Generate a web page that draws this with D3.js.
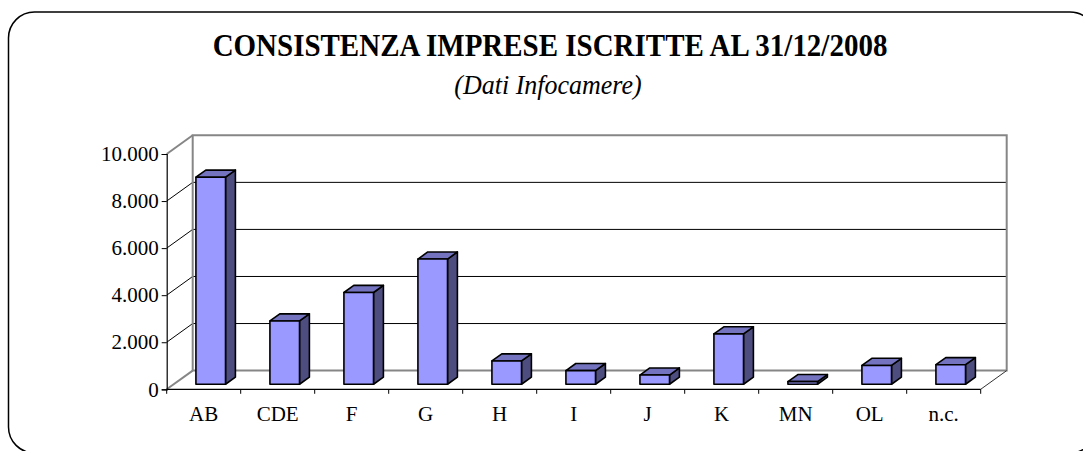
<!DOCTYPE html>
<html>
<head>
<meta charset="utf-8">
<script src="https://cdn.jsdelivr.net/npm/d3@7"></script>
<style>
  html, body { margin: 0; padding: 0; background: #fff; }
  svg { display: block; font-family: "Liberation Serif", "Times New Roman", serif; }
</style>
</head>
<body>
<div id="chart"></div>
<script>
const categories = ["AB", "CDE", "F", "G", "H", "I", "J", "K", "MN", "OL", "n.c."];
const imprese = [8800, 2690, 3900, 5320, 990, 580, 390, 2140, 110, 800, 830];
const yTicks = [0, 2000, 4000, 6000, 8000, 10000];
const titleText = "CONSISTENZA IMPRESE ISCRITTE AL 31/12/2008";
const subtitleText = "(Dati Infocamere)";

const W = 1083, H = 451;

// front plane of the 3d box, and depth offset to the back wall
const x0 = 166.7, x1 = 980.7;
const yBottom = 389.3, yTop = 154;
const DX = 26, DY = -18.7;
// bars sit between these fractions of the depth
const f1 = 0.27, f2 = 0.65;

const svg = d3.select("#chart").append("svg")
  .attr("width", W)
  .attr("height", H);

// outer frame
svg.append("rect")
  .attr("x", 8.5).attr("y", 12)
  .attr("width", 1087.5).attr("height", 441)
  .attr("rx", 26).attr("ry", 26)
  .attr("fill", "#fff")
  .attr("stroke", "#000")
  .attr("stroke-width", 1.5);

// titles (the source picture is a bit taller than wide)
svg.append("text")
  .attr("transform", "translate(550,56) scale(1,1.12)")
  .attr("text-anchor", "middle")
  .attr("font-size", 29)
  .attr("font-weight", "bold")
  .text(titleText);

svg.append("text")
  .attr("transform", "translate(548,94) scale(1,1.05)")
  .attr("text-anchor", "middle")
  .attr("font-size", 26)
  .attr("font-style", "italic")
  .text(subtitleText);

const x = d3.scaleBand()
  .domain(categories)
  .range([x0, x1])
  .paddingInner(0.6)
  .paddingOuter(0.3);

const y = d3.scaleLinear()
  .domain([0, 10000])
  .range([yBottom, yTop]);

const step = x.step();

// ---------- walls ----------
const wallGray = "#868686";

// back wall grid lines
yTicks.slice(1, -1).forEach(t => {
  svg.append("line")
    .attr("x1", x0 + DX).attr("x2", x1 + DX)
    .attr("y1", y(t) + DY).attr("y2", y(t) + DY)
    .attr("stroke", "#000")
    .attr("stroke-width", 1);
});

// side wall diagonals
yTicks.forEach((t, i) => {
  const edge = i === 0 || i === yTicks.length - 1;
  svg.append("line")
    .attr("x1", x0).attr("y1", y(t))
    .attr("x2", x0 + DX).attr("y2", y(t) + DY)
    .attr("stroke", edge ? wallGray : "#000")
    .attr("stroke-width", edge ? 2 : 1);
});

// back wall border
svg.append("path")
  .attr("d", `M${x0 + DX},${y(0) + DY}V${y(10000) + DY}H${x1 + DX}V${y(0) + DY}Z`)
  .attr("fill", "none")
  .attr("stroke", wallGray)
  .attr("stroke-width", 2);

// floor right edge
svg.append("line")
  .attr("x1", x1).attr("y1", y(0))
  .attr("x2", x1 + DX).attr("y2", y(0) + DY)
  .attr("stroke", "#333")
  .attr("stroke-width", 1);

// ---------- axes ----------
const fmt = d3.formatLocale({ decimal: ",", thousands: ".", grouping: [3], currency: ["€", ""] }).format(",d");

const yAxis = svg.append("g")
  .attr("transform", `translate(${x0},0)`)
  .call(d3.axisLeft(y).tickValues(yTicks).tickSize(5).tickPadding(3).tickFormat(fmt));
yAxis.select(".domain").attr("stroke", "#000").attr("stroke-width", 1.2);
yAxis.selectAll(".tick line").attr("stroke", "#000");
yAxis.selectAll("text")
  .attr("font-family", "Liberation Serif, Times New Roman, serif")
  .attr("font-size", 21)
  .attr("fill", "#000");

const xAxis = svg.append("g")
  .attr("transform", `translate(0,${yBottom})`)
  .call(d3.axisBottom(x).tickSize(0).tickPadding(17));
xAxis.select(".domain").remove();
xAxis.selectAll("text")
  .attr("font-family", "Liberation Serif, Times New Roman, serif")
  .attr("font-size", 21)
  .attr("fill", "#000");

svg.append("line")
  .attr("x1", x0).attr("x2", x1)
  .attr("y1", yBottom).attr("y2", yBottom)
  .attr("stroke", "#000")
  .attr("stroke-width", 1.2);

d3.range(categories.length + 1).forEach(i => {
  svg.append("line")
    .attr("x1", x0 + i * step).attr("x2", x0 + i * step)
    .attr("y1", yBottom).attr("y2", yBottom + 4.5)
    .attr("stroke", "#000");
});

// ---------- bars ----------
const bw = x.bandwidth();
const dd = (f2 - f1) * DX, dh = (f2 - f1) * DY;

categories.forEach((c, i) => {
  const xl = x(c) + f1 * DX;
  const xr = xl + bw;
  const yb = y(0) + f1 * DY;
  const yt = y(imprese[i]) + f1 * DY;
  const g = svg.append("g")
    .attr("stroke", "#000")
    .attr("stroke-width", 1.6)
    .attr("stroke-linejoin", "round");

  g.append("path")
    .attr("d", `M${xr},${yt}L${xr + dd},${yt + dh}L${xr + dd},${yb + dh}L${xr},${yb}Z`)
    .attr("fill", "#4d4d80");
  g.append("path")
    .attr("d", `M${xl},${yt}L${xl + dd},${yt + dh}L${xr + dd},${yt + dh}L${xr},${yt}Z`)
    .attr("fill", "#7373bf");
  g.append("rect")
    .attr("x", xl).attr("y", yt)
    .attr("width", bw).attr("height", yb - yt)
    .attr("fill", "#9999ff");
});
</script>
</body>
</html>
